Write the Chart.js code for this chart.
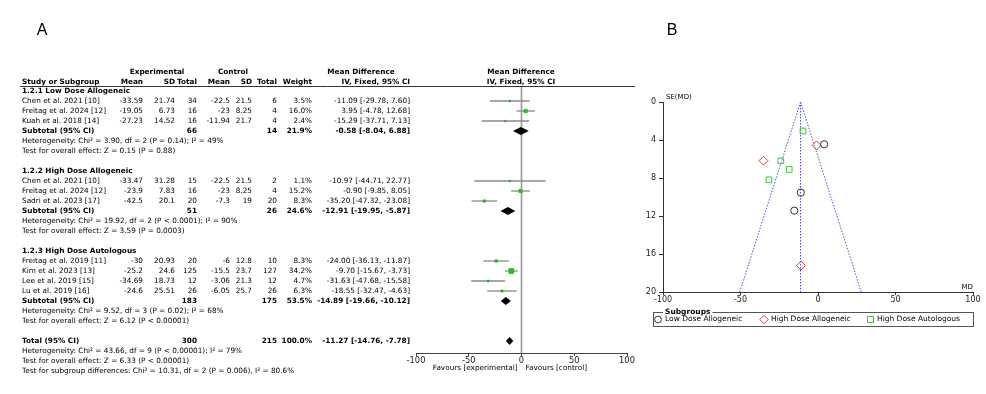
<!DOCTYPE html>
<html>
<head>
<meta charset="utf-8">
<script src="https://cdn.jsdelivr.net/npm/chart.js@4.4.1/dist/chart.umd.min.js"></script>
<style>
  html, body { margin: 0; padding: 0; background: #fff; width: 986px; height: 394px; overflow: hidden; }
  canvas { position: absolute; top: 0; }
  #forest { left: 0; }
  #funnel { left: 640px; }
</style>
</head>
<body>
<canvas id="forest" width="645" height="394"></canvas>
<canvas id="funnel" width="346" height="394"></canvas>
<script>
// ---- data ----
const groupNames = ['1.2.1 Low Dose Allogeneic', '1.2.2 High Dose Allogeneic', '1.2.3 High Dose Autologous'];
const studies = ['Chen et al. 2021 [10]', 'Freitag et al. 2024 [12]', 'Kuah et al. 2018 [14]',
  'Chen et al. 2021 [10]', 'Freitag et al. 2024 [12]', 'Sadri et al. 2023 [17]',
  'Freitag et al. 2019 [11]', 'Kim et al. 2023 [13]', 'Lee et al. 2019 [15]', 'Lu et al. 2019 [16]'];
const studyGroup = [0, 0, 0, 1, 1, 1, 2, 2, 2, 2];
const expMean = [-33.59, -19.05, -27.23, -33.47, -23.9, -42.5, -30, -25.2, -34.69, -24.6];
const expSD = [21.74, 6.73, 14.52, 31.28, 7.83, 20.1, 20.93, 24.6, 18.73, 25.51];
const expTotal = [34, 16, 16, 15, 16, 20, 20, 125, 12, 26];
const ctlMean = [-22.5, -23, -11.94, -22.5, -23, -7.3, -6, -15.5, -3.06, -6.05];
const ctlSD = [21.5, 8.25, 21.7, 21.5, 8.25, 19, 12.8, 23.7, 21.3, 25.7];
const ctlTotal = [6, 4, 4, 2, 4, 20, 10, 127, 12, 26];
const weight = [3.5, 16.0, 2.4, 1.1, 15.2, 8.3, 8.3, 34.2, 4.7, 6.3];
const md = [-11.09, 3.95, -15.29, -10.97, -0.90, -35.20, -24.00, -9.70, -31.63, -18.55];
const ciLow = [-29.78, -4.78, -37.71, -44.71, -9.85, -47.32, -36.13, -15.67, -47.68, -32.47];
const ciHigh = [7.60, 12.68, 7.13, 22.77, 8.05, -23.08, -11.87, -3.73, -15.58, -4.63];

const subExpTotal = [66, 51, 183];
const subCtlTotal = [14, 26, 175];
const subWeight = [21.9, 24.6, 53.5];
const subMD = [-0.58, -12.91, -14.89];
const subLow = [-8.04, -19.95, -19.66];
const subHigh = [6.88, -5.87, -10.12];
const subHet = [
  'Heterogeneity: Chi² = 3.90, df = 2 (P = 0.14); I² = 49%',
  'Heterogeneity: Chi² = 19.92, df = 2 (P < 0.0001); I² = 90%',
  'Heterogeneity: Chi² = 9.52, df = 3 (P = 0.02); I² = 68%'
];
const subTest = [
  'Test for overall effect: Z = 0.15 (P = 0.88)',
  'Test for overall effect: Z = 3.59 (P = 0.0003)',
  'Test for overall effect: Z = 6.12 (P < 0.00001)'
];
const totalExp = 300, totalCtl = 215, totalWeight = 100.0;
const totalMD = -11.27, totalLow = -14.76, totalHigh = -7.78;
const totalNotes = [
  'Heterogeneity: Chi² = 43.66, df = 9 (P < 0.00001); I² = 79%',
  'Test for overall effect: Z = 6.33 (P < 0.00001)',
  'Test for subgroup differences: Chi² = 10.31, df = 2 (P = 0.006), I² = 80.6%'
];
const mdTicks = [-100, -50, 0, 50, 100];

// funnel plot: MD and SE(MD) per subgroup
const lowMD = [-11.09, 3.95, -15.29];
const lowSE = [9.54, 4.45, 11.44];
const highAlloMD = [-10.97, -0.90, -35.20];
const highAlloSE = [17.21, 4.57, 6.18];
const highAutoMD = [-24.00, -9.70, -31.63, -18.55];
const highAutoSE = [6.19, 3.05, 8.19, 7.10];
const seTicks = [0, 4, 8, 12, 16, 20];

// ---- row layout for the forest table ----
const studyRow = [], headRow = [], subRow = [], hetRow = [], testRow = [];
let r = 0.5;
groupNames.forEach((g, gi) => {
  headRow.push(r); r += 1;
  studyGroup.forEach((sg, i) => { if (sg === gi) { studyRow[i] = r; r += 1; } });
  subRow.push(r); r += 1;
  hetRow.push(r); r += 1;
  testRow.push(r); r += 2;
});
const totalRow = r;

const FONT = '"DejaVu Sans"';
const SIZE = '7.3px ';
const num = v => String(v);
const ci = (m, lo, hi) => `${m.toFixed(2)} [${lo.toFixed(2)}, ${hi.toFixed(2)}]`;

const forestText = {
  id: 'forestText',
  beforeDatasetsDraw(chart) {
    const ctx = chart.ctx, xs = chart.scales.x, area = chart.chartArea;
    ctx.save();
    ctx.strokeStyle = '#999';
    ctx.lineWidth = 1.6;
    ctx.beginPath();
    ctx.moveTo(xs.getPixelForValue(0), area.top);
    ctx.lineTo(xs.getPixelForValue(0), area.bottom);
    ctx.stroke();
    ctx.restore();
  },
  afterDatasetsDraw(chart) {
    const ctx = chart.ctx, xs = chart.scales.x, ys = chart.scales.y;
    const diamond = (m, lo, hi, row) => {
      const y = ys.getPixelForValue(row);
      ctx.beginPath();
      ctx.moveTo(xs.getPixelForValue(lo), y);
      ctx.lineTo(xs.getPixelForValue(m), y - 4);
      ctx.lineTo(xs.getPixelForValue(hi), y);
      ctx.lineTo(xs.getPixelForValue(m), y + 4);
      ctx.closePath();
      ctx.fill();
    };
    ctx.save();
    ctx.fillStyle = '#000';
    subMD.forEach((m, i) => diamond(m, subLow[i], subHigh[i], subRow[i]));
    diamond(totalMD, totalLow, totalHigh, totalRow);
    ctx.restore();
  },
  afterDraw(chart) {
    const ctx = chart.ctx, ys = chart.scales.y, xs = chart.scales.x, area = chart.chartArea;
    const Y = row => ys.getPixelForValue(row);
    const put = (txt, x, row, align, bold) => {
      ctx.font = (bold ? 'bold ' : '') + SIZE + FONT;
      ctx.textAlign = align;
      ctx.fillText(txt, x, Y(row));
    };
    ctx.save();
    ctx.fillStyle = '#000';
    ctx.textBaseline = 'middle';

    ctx.font = '16px "Liberation Sans"';
    ctx.textAlign = 'center';
    ctx.fillText('A', 42, 31);

    // header
    put('Experimental', 157, -1.4, 'center', true);
    put('Control', 233, -1.4, 'center', true);
    put('Mean Difference', 361, -1.4, 'center', true);
    put('Mean Difference', 521, -1.4, 'center', true);
    put('Study or Subgroup', 22, -0.4, 'left', true);
    put('Mean', 143, -0.4, 'right', true);
    put('SD', 175, -0.4, 'right', true);
    put('Total', 197, -0.4, 'right', true);
    put('Mean', 230, -0.4, 'right', true);
    put('SD', 252, -0.4, 'right', true);
    put('Total', 277, -0.4, 'right', true);
    put('Weight', 312, -0.4, 'right', true);
    put('IV, Fixed, 95% CI', 410, -0.4, 'right', true);
    put('IV, Fixed, 95% CI', 521, -0.4, 'center', true);

    ctx.strokeStyle = '#333';
    ctx.lineWidth = 1;
    ctx.beginPath();
    ctx.moveTo(20, area.top + 0.5);
    ctx.lineTo(635, area.top + 0.5);
    ctx.stroke();

    groupNames.forEach((g, gi) => {
      put(g, 22, headRow[gi], 'left', true);
      put('Subtotal (95% CI)', 22, subRow[gi], 'left', true);
      put(num(subExpTotal[gi]), 197, subRow[gi], 'right', true);
      put(num(subCtlTotal[gi]), 277, subRow[gi], 'right', true);
      put(subWeight[gi].toFixed(1) + '%', 312, subRow[gi], 'right', true);
      put(ci(subMD[gi], subLow[gi], subHigh[gi]), 410, subRow[gi], 'right', true);
      put(subHet[gi], 22, hetRow[gi], 'left', false);
      put(subTest[gi], 22, testRow[gi], 'left', false);
    });
    studies.forEach((s, i) => {
      const row = studyRow[i];
      put(s, 22, row, 'left', false);
      put(num(expMean[i]), 143, row, 'right', false);
      put(num(expSD[i]), 175, row, 'right', false);
      put(num(expTotal[i]), 197, row, 'right', false);
      put(num(ctlMean[i]), 230, row, 'right', false);
      put(num(ctlSD[i]), 252, row, 'right', false);
      put(num(ctlTotal[i]), 277, row, 'right', false);
      put(weight[i].toFixed(1) + '%', 312, row, 'right', false);
      put(ci(md[i], ciLow[i], ciHigh[i]), 410, row, 'right', false);
    });
    put('Total (95% CI)', 22, totalRow, 'left', true);
    put(num(totalExp), 197, totalRow, 'right', true);
    put(num(totalCtl), 277, totalRow, 'right', true);
    put(totalWeight.toFixed(1) + '%', 312, totalRow, 'right', true);
    put(ci(totalMD, totalLow, totalHigh), 410, totalRow, 'right', true);
    totalNotes.forEach((t, k) => put(t, 22, totalRow + 1 + k, 'left', false));

    // favours labels under the axis
    ctx.font = SIZE + FONT;
    ctx.textAlign = 'right';
    ctx.fillText('Favours [experimental]', xs.getPixelForValue(0) - 4, 368);
    ctx.textAlign = 'left';
    ctx.fillText('Favours [control]', xs.getPixelForValue(0) + 4, 368);
    ctx.restore();
  }
};

new Chart(document.getElementById('forest'), {
  data: {
    datasets: [
      {
        type: 'scatter',
        data: md.map((v, i) => ({ x: v, y: studyRow[i] })),
        pointStyle: 'rect',
        pointRadius: weight.map(w => Math.max(1.1, 0.6 * Math.sqrt(w))),
        backgroundColor: '#1dc41d',
        borderColor: '#12a012',
        borderWidth: 0.5,
        order: 0
      },
      ...studies.map((s, i) => ({
        type: 'line',
        data: [{ x: ciLow[i], y: studyRow[i] }, { x: ciHigh[i], y: studyRow[i] }],
        borderColor: '#8a8a8a',
        borderWidth: 1.3,
        pointRadius: 0,
        fill: false,
        order: 1
      }))
    ]
  },
  options: {
    responsive: false,
    animation: false,
    events: [],
    layout: { padding: { left: 416, right: 18, top: 86, bottom: 23 } },
    plugins: { legend: { display: false }, tooltip: { enabled: false } },
    scales: {
      x: {
        type: 'linear', min: -100, max: 100, position: 'bottom',
        afterBuildTicks: s => { s.ticks = mdTicks.map(v => ({ value: v })); },
        ticks: { font: { family: 'DejaVu Sans', size: 8.3 }, color: '#222', padding: 0, maxRotation: 0, autoSkip: false },
        grid: { drawOnChartArea: false, drawTicks: true, tickLength: 3, color: '#444' },
        border: { display: true, color: '#444', width: 1 },
        afterFit: s => { s.height = 18; }
      },
      y: { type: 'linear', min: 0, max: 26.7, reverse: true, display: false }
    }
  },
  plugins: [forestText]
});

// ---- funnel plot ----
const funnelText = {
  id: 'funnelText',
  afterDraw(chart) {
    const ctx = chart.ctx, area = chart.chartArea;
    ctx.save();
    ctx.fillStyle = '#000';
    ctx.textBaseline = 'middle';
    ctx.font = '16px "Liberation Sans"';
    ctx.textAlign = 'center';
    ctx.fillText('B', 32, 31);

    ctx.font = '7px ' + FONT;
    ctx.textAlign = 'left';
    ctx.fillText('SE(MD)', area.left + 3, area.top - 5);
    ctx.textAlign = 'right';
    ctx.fillText('MD', area.right, area.bottom - 5);

    // legend box
    ctx.strokeStyle = '#555';
    ctx.lineWidth = 1;
    ctx.strokeRect(13.5, 312.5, 320, 14);
    ctx.font = 'bold 7.5px ' + FONT;
    ctx.textAlign = 'left';
    const tw = ctx.measureText('Subgroups').width;
    ctx.fillStyle = '#fff';
    ctx.fillRect(23, 308, tw + 4, 8);
    ctx.fillStyle = '#000';
    ctx.fillText('Subgroups', 25, 312);

    ctx.font = '7.5px ' + FONT;
    ctx.lineWidth = 1;
    // circle
    ctx.strokeStyle = '#333';
    ctx.beginPath(); ctx.arc(18, 319.5, 3.4, 0, Math.PI * 2); ctx.stroke();
    ctx.fillText('Low Dose Allogeneic', 25, 319.5);
    // diamond
    ctx.strokeStyle = '#d04848';
    ctx.beginPath();
    ctx.moveTo(124, 315.3); ctx.lineTo(128.2, 319.5); ctx.lineTo(124, 323.7); ctx.lineTo(119.8, 319.5);
    ctx.closePath(); ctx.stroke();
    ctx.fillText('High Dose Allogeneic', 131, 319.5);
    // square
    ctx.strokeStyle = '#3fc43f';
    ctx.strokeRect(227.5, 316.5, 6, 6);
    ctx.fillText('High Dose Autologous', 237, 319.5);
    ctx.restore();
  }
};

const seMax = seTicks[seTicks.length - 1];
const funnelLine = pts => ({
  type: 'line', data: pts, borderColor: '#5050d8', borderWidth: 1,
  borderDash: [1.5, 1.5], pointRadius: 0, fill: false, order: 2
});

new Chart(document.getElementById('funnel'), {
  data: {
    datasets: [
      funnelLine([{ x: totalMD, y: 0 }, { x: totalMD - 1.96 * seMax, y: seMax }]),
      funnelLine([{ x: totalMD, y: 0 }, { x: totalMD + 1.96 * seMax, y: seMax }]),
      funnelLine([{ x: totalMD, y: 0 }, { x: totalMD, y: seMax }]),
      {
        type: 'scatter', label: 'Low Dose Allogeneic',
        data: lowMD.map((v, i) => ({ x: v, y: lowSE[i] })),
        pointStyle: 'circle', pointRadius: 3.6, borderWidth: 1,
        borderColor: '#333', backgroundColor: 'rgba(0,0,0,0)', order: 1
      },
      {
        type: 'scatter', label: 'High Dose Allogeneic',
        data: highAlloMD.map((v, i) => ({ x: v, y: highAlloSE[i] })),
        pointStyle: 'rectRot', pointRadius: 4.5, borderWidth: 1,
        borderColor: '#d04848', backgroundColor: 'rgba(0,0,0,0)', order: 1
      },
      {
        type: 'scatter', label: 'High Dose Autologous',
        data: highAutoMD.map((v, i) => ({ x: v, y: highAutoSE[i] })),
        pointStyle: 'rect', pointRadius: 4, borderWidth: 1,
        borderColor: '#3fc43f', backgroundColor: 'rgba(0,0,0,0)', order: 1
      }
    ]
  },
  options: {
    responsive: false,
    animation: false,
    events: [],
    layout: { padding: { left: 3, right: 13, top: 102, bottom: 88 } },
    plugins: { legend: { display: false }, tooltip: { enabled: false } },
    scales: {
      x: {
        type: 'linear', min: -100, max: 100, position: 'bottom',
        afterBuildTicks: s => { s.ticks = mdTicks.map(v => ({ value: v })); },
        ticks: { font: { family: 'DejaVu Sans', size: 8 }, color: '#222', padding: 0, maxRotation: 0, autoSkip: false },
        grid: { drawOnChartArea: false, drawTicks: true, tickLength: 3, color: '#333' },
        border: { display: true, color: '#333', width: 1 },
        afterFit: s => { s.height = 14; }
      },
      y: {
        type: 'linear', min: 0, max: 20, reverse: true, position: 'left',
        afterBuildTicks: s => { s.ticks = seTicks.map(v => ({ value: v })); },
        ticks: { font: { family: 'DejaVu Sans', size: 8 }, color: '#222', padding: 3 },
        grid: { drawOnChartArea: false, drawTicks: true, tickLength: 4, color: '#333' },
        border: { display: true, color: '#333', width: 1 },
        afterFit: s => { s.width = 20; }
      }
    }
  },
  plugins: [funnelText]
});
</script>
</body>
</html>
